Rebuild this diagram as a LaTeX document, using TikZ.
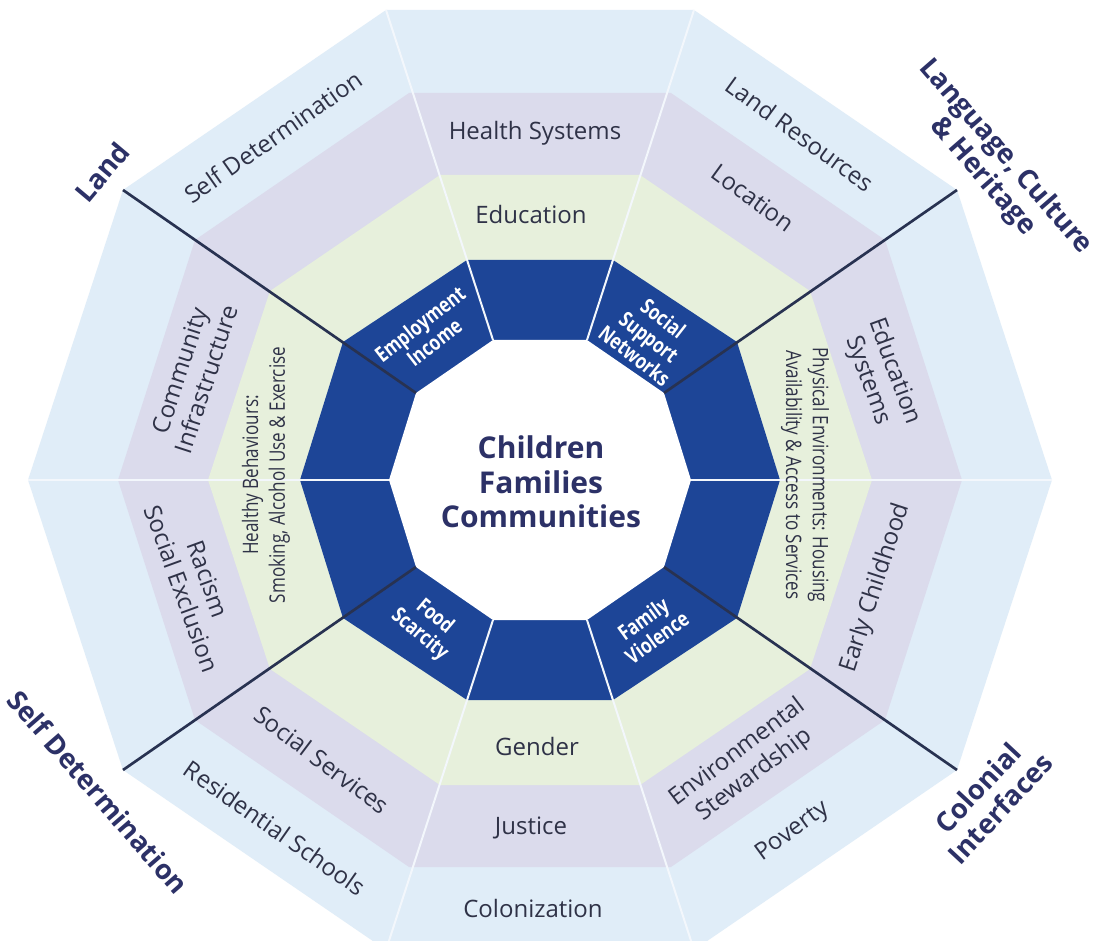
\documentclass[tikz,border=0pt]{standalone}
\usepackage{fontspec}
\setmainfont{Open Sans}
\newfontfamily\condfont[FakeStretch=0.8]{Open Sans}
\usepackage{tikz}

\definecolor{skyring}{HTML}{E0EDF8}
\definecolor{lavring}{HTML}{DBDBEC}
\definecolor{greenring}{HTML}{E7F0DC}
\definecolor{darkring}{HTML}{1D4597}
\definecolor{navy}{HTML}{2C3167}
\definecolor{labelgrey}{HTML}{2F3247}
\definecolor{spoke}{HTML}{F3F7FC}
\definecolor{darkspoke}{HTML}{283251}

\begin{document}
\begin{tikzpicture}[x=0.75pt,y=-0.75pt,
  lbl/.style={inner sep=0pt, text=labelgrey, font=\fontsize{18}{21}\selectfont, align=center},
  corner/.style={inner sep=0pt, text=navy, font=\fontsize{20.5}{23}\selectfont\bfseries, align=center},
  seg/.style={inner sep=0pt, text=white, font=\condfont\fontsize{16}{17.5}\selectfont\bfseries, align=center},
  narrow/.style={inner sep=0pt, text=labelgrey, font=\condfont\fontsize{16}{20}\selectfont, align=center},
  spokeline/.style={draw=spoke, line width=1.5pt},
  darkline/.style={draw=darkspoke, line width=2pt}]
%\draw[help lines] (0,0) grid (1097,941);
\useasboundingbox (0,0) rectangle (1097,941);
\fill[white] (0,0) rectangle (1097,941);

% outer ring corners
\coordinate (o1) at (386,10);
\coordinate (o2) at (694,10);
\coordinate (o3) at (957,190);
\coordinate (o4) at (1052,480);
\coordinate (o5) at (957,770);
\coordinate (o6) at (694,950);
\coordinate (o7) at (386,950);
\coordinate (o8) at (123,770);
\coordinate (o9) at (28,480);
\coordinate (o10) at (123,190);
% inner white corners
\coordinate (w1) at (493,340);
\coordinate (w2) at (587,340);
\coordinate (w3) at (664,393);
\coordinate (w4) at (691,480);
\coordinate (w5) at (664,567);
\coordinate (w6) at (587,620);
\coordinate (w7) at (493,620);
\coordinate (w8) at (416,567);
\coordinate (w9) at (389,480);
\coordinate (w10) at (416,393);

\fill[skyring] (o1) -- (o2) -- (o3) -- (o4) -- (o5) -- (o6) -- (o7) -- (o8) -- (o9) -- (o10) -- cycle;
\fill[lavring] (409,93) -- (671,93) -- (885,240) -- (962,480) -- (885,720) -- (671,867) -- (409,867) -- (195,720) -- (118,480) -- (195,240) -- cycle;
\fill[greenring] (440,175) -- (640,175) -- (810,291) -- (872,480) -- (810,669) -- (640,785) -- (440,785) -- (270,669) -- (208,480) -- (270,291) -- cycle;
\fill[darkring] (467,260) -- (613,260) -- (737,342) -- (780,480) -- (737,618) -- (613,700) -- (467,700) -- (343,618) -- (300,480) -- (343,342) -- cycle;
\fill[white] (w1) -- (w2) -- (w3) -- (w4) -- (w5) -- (w6) -- (w7) -- (w8) -- (w9) -- (w10) -- cycle;

\path
(w1) edge [spokeline] (o1)
(w2) edge [spokeline] (o2)
(w4) edge [spokeline] (o4)
(w6) edge [spokeline] (o6)
(w7) edge [spokeline] (o7)
(w9) edge [spokeline] (o9)
(w3) edge [darkline] (o3)
(w5) edge [darkline] (o5)
(w8) edge [darkline] (o8)
(w10) edge [darkline] (o10);

\node (cfc) [inner sep=0pt, text=navy, font=\fontsize{22.5}{26}\selectfont\bfseries, align=center] at (541,482) {Children\\Families\\Communities};

\node (emp) [seg, rotate=38] at (427,333) {Employment\\Income};
\node (ssn) [seg, rotate=-38] at (649,337) {Social\\Support\\Networks};
\node (food) [seg, rotate=-40] at (427,626) {Food\\Scarcity};
\node (fv) [seg, rotate=36] at (650,628) {Family\\Violence};

\node (sdtop) [lbl, rotate=35] at (273,137) {Self Determination};
\node (hs) [lbl] at (535,133) {Health Systems};
\node (edu) [lbl] at (531,215) {Education};
\node (lr) [lbl, rotate=-36] at (800,134) {Land Resources};
\node (loc) [lbl, rotate=-36] at (753,198) {Location};
\node (ci) [lbl, rotate=72] at (193,375) {Community\\Infrastructure};
\node (rse) [lbl, rotate=-70] at (195,584) {Racism\\Social Exclusion};
\node (ss) [lbl, rotate=-37] at (322,760) {Social Services};
\node (rs) [lbl, rotate=-35] at (275,828) {Residential Schools};
\node (gen) [lbl] at (537,746) {Gender};
\node (jus) [lbl] at (531,828) {Justice};
\node (col) [lbl] at (533,908) {Colonization};
\node (es) [lbl, rotate=37] at (746,764) {Environmental\\Stewardship};
\node (pov) [lbl, rotate=36] at (793,832) {Poverty};
\node (ec) [lbl, rotate=72] at (876,588) {Early Childhood};
\node (edsys) [lbl, rotate=-70] at (881,376) {Education\\Systems};
\node (hb) [narrow, rotate=90] at (266,475) {Healthy Behaviours:\\Smoking, Alcohol Use \& Exercise};
\node (pe) [narrow, rotate=-90] at (805,475) {Physical Environments: Housing\\Availability \& Access to Services};

\node (land) [corner, rotate=50] at (102,172) {Land};
\node (lch) [corner, rotate=-49] at (994,167) {Language, Culture\\\& Heritage};
\node (sdbot) [corner, rotate=-49] at (98,792) {Self Determination};
\node (colint) [corner, rotate=47] at (989,798) {Colonial\\Interfaces};
\end{tikzpicture}
\end{document}
